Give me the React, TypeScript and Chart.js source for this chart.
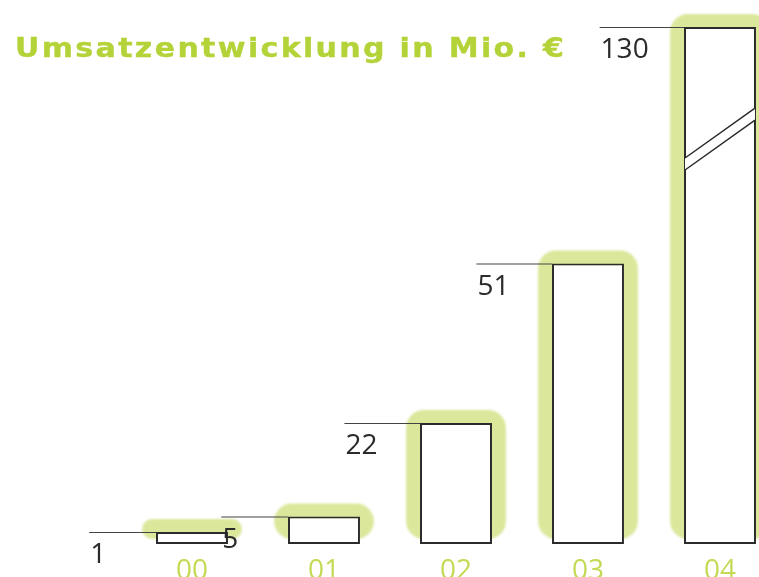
import React, { useEffect, useRef } from "react";
import { Chart, registerables } from "chart.js";

Chart.register(...registerables);

const categories = ["00", "01", "02", "03", "04"];
const revenue = [1, 5, 22, 51, 130];
const titleText = "Umsatzentwicklung in Mio. €";
const axisMax = 94;

const GREEN = "#b4d339";
const GLOW = "#dbe89c";
const TICK_GREEN = "#c3da54";
const INK = "#2b2b2b";

const decorPlugin = {
  id: "decor",
  beforeDatasetsDraw(chart: any) {
    const ctx = chart.ctx;
    const meta = chart.getDatasetMeta(0);
    ctx.save();
    ctx.fillStyle = GLOW;
    ctx.filter = "blur(1px)";
    meta.data.forEach((bar: any) => {
      const left = bar.x - bar.width / 2 - 14;
      const right = bar.x + bar.width / 2 + 14;
      const top = bar.y - 13;
      const bottom = bar.base - 5;
      const h = bottom - top;
      const r = Math.min(18, h / 2);
      ctx.beginPath();
      ctx.roundRect(left, top, right - left, h, r);
      ctx.fill();
    });
    ctx.restore();
  },
  afterDatasetsDraw(chart: any) {
    const ctx = chart.ctx;
    const meta = chart.getDatasetMeta(0);
    ctx.save();
    meta.data.forEach((bar: any, i: number) => {
      const left = bar.x - bar.width / 2;
      const right = bar.x + bar.width / 2;
      const top = bar.y;
      const h = bar.base - bar.y;
      // scale break for values beyond the axis
      if (revenue[i] > axisMax) {
        ctx.strokeStyle = INK;
        ctx.lineWidth = 1.5;
        const lY = top + 0.2534 * h;
        const rY = top + 0.157 * h;
        ctx.fillStyle = "#ffffff";
        ctx.beginPath();
        ctx.moveTo(left + 1, lY);
        ctx.lineTo(right - 1, rY);
        ctx.lineTo(right - 1, rY + 12);
        ctx.lineTo(left + 1, lY + 12);
        ctx.closePath();
        ctx.fill();
        ctx.beginPath();
        ctx.moveTo(left + 1, lY);
        ctx.lineTo(right - 1, rY);
        ctx.moveTo(left + 1, lY + 12);
        ctx.lineTo(right - 1, rY + 12);
        ctx.stroke();
      }
      // leader line and value label
      const label = String(revenue[i]);
      ctx.font = '28px "Open Sans"';
      const tw = ctx.measureText(label).width;
      const lead = 58 + 0.55 * tw;
      ctx.strokeStyle = "#444";
      ctx.lineWidth = 1.2;
      ctx.beginPath();
      ctx.moveTo(left - lead, top + 0.5);
      ctx.lineTo(left, top + 0.5);
      ctx.stroke();
      ctx.fillStyle = INK;
      ctx.textAlign = "left";
      ctx.textBaseline = "alphabetic";
      ctx.fillText(label, left - lead + 1, top + 31);
    });
    ctx.restore();
  },
  afterDraw(chart: any) {
    const ctx = chart.ctx;
    ctx.save();
    ctx.font = 'bold 26px "DejaVu Sans"';
    (ctx as any).letterSpacing = "2px";
    const w = ctx.measureText(titleText).width - 2;
    ctx.translate(15, 57);
    ctx.scale(549 / w, 1);
    ctx.fillStyle = GREEN;
    ctx.strokeStyle = GREEN;
    ctx.lineWidth = 0.4;
    ctx.lineJoin = "round";
    ctx.textAlign = "left";
    ctx.textBaseline = "alphabetic";
    ctx.fillText(titleText, 0, 0);
    ctx.strokeText(titleText, 0, 0);
    ctx.restore();
  },
};

export default function App() {
  const ref = useRef<HTMLCanvasElement>(null);
  useEffect(() => {
    if (!ref.current) return;
    const chart = new Chart(ref.current, {
      type: "bar",
      data: {
        labels: categories,
        datasets: [
          {
            label: "Umsatz",
            data: revenue.map((v) => Math.min(v, axisMax)),
            backgroundColor: "#ffffff",
            borderColor: INK,
            borderWidth: 2,
            borderSkipped: false,
            minBarLength: 12,
            categoryPercentage: 1,
            barPercentage: 0.545,
          },
        ],
      },
      options: {
        responsive: false,
        animation: false,
        layout: { padding: { left: 126, right: 14, top: 27, bottom: 0 } },
        plugins: { legend: { display: false }, tooltip: { enabled: false }, title: { display: false } },
        scales: {
          x: {
            grid: { display: false, drawTicks: false },
            border: { display: false },
            ticks: { color: TICK_GREEN, font: { family: "Open Sans", size: 28 }, padding: 10 },
            afterFit: (scale: any) => {
              scale.height = 33;
            },
          },
          y: { display: false, min: 0, max: axisMax },
        },
      },
      plugins: [decorPlugin],
    });
    return () => chart.destroy();
  }, []);
  return (
    <div
      style={{
        position: "fixed",
        left: 0,
        top: 0,
        width: 759,
        height: 577,
        overflow: "hidden",
        background: "#fff",
      }}
    >
      <canvas ref={ref} width={800} height={577} style={{ display: "block" }} />
    </div>
  );
}
